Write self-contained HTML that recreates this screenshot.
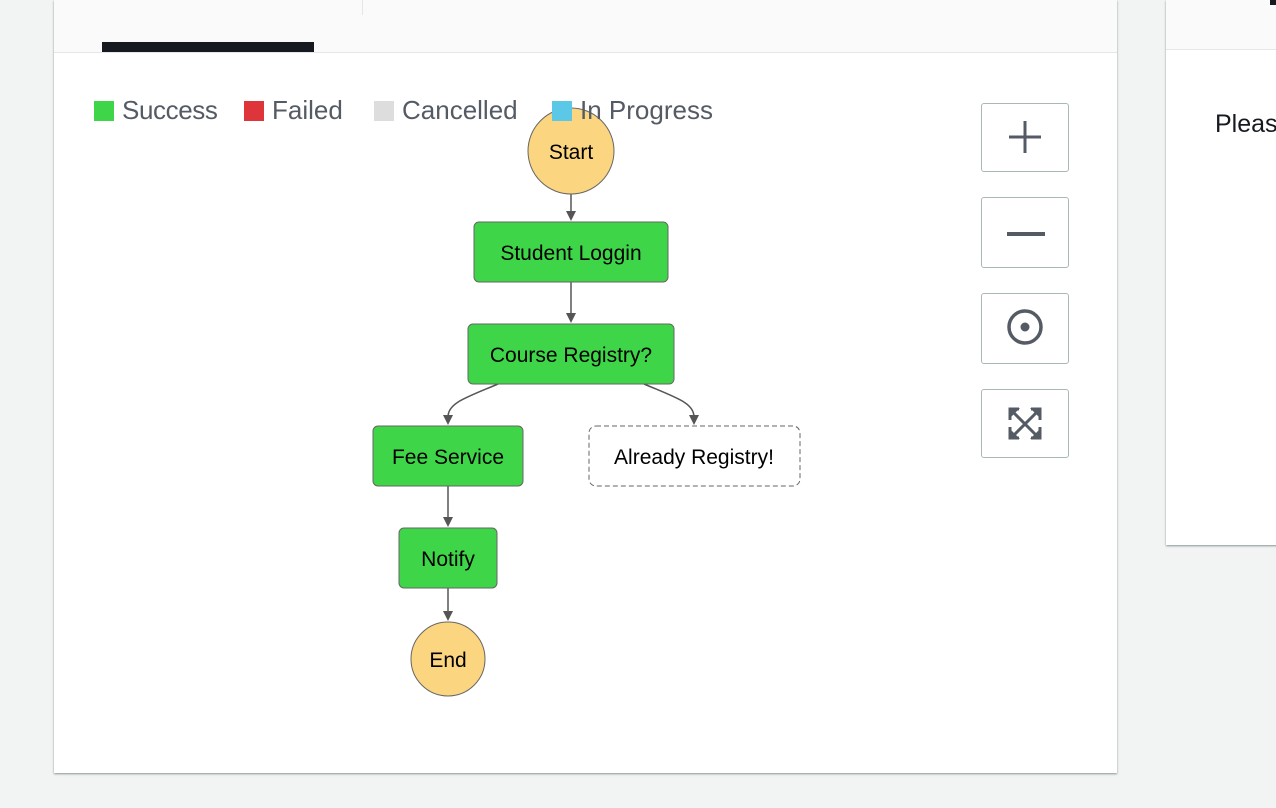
<!DOCTYPE html>
<html><head><meta charset="utf-8"><style>
body{margin:0;width:1276px;height:808px;background:#f2f3f3;position:relative;overflow:hidden;font-family:"Liberation Sans",sans-serif}
.panel{position:absolute;left:54px;top:0;width:1063px;height:773px;background:#fff;box-shadow:0 1px 2px #879596}
.hdr{position:absolute;left:0;top:0;right:0;height:52px;background:#fafafa;border-bottom:1px solid #e4e7e7}
.tab{position:absolute;left:48px;top:42px;width:212px;height:10px;background:#16191f}
.div{position:absolute;left:308px;top:0;width:1px;height:15px;background:#e4e7e7}
.leg{position:absolute;top:94px;font-size:26px;color:#545b64;line-height:32px;white-space:nowrap}
.leg i{display:inline-block;width:20px;height:20px;vertical-align:-2px;margin-right:8px}
.btn{position:absolute;left:981px;width:86px;border:1px solid #aab7b8;border-radius:3px;background:#fff}
.rp{position:absolute;left:1166px;top:0;width:120px;height:545px;background:#fff;box-shadow:0 1px 2px #879596}
.rp .h{position:absolute;left:0;top:0;right:0;height:49px;background:#fafafa;border-bottom:1px solid #e4e7e7}
</style></head><body>
<div class="panel"><div class="hdr"><div class="tab"></div><div class="div"></div></div></div>
<div class="rp"><div class="h"></div><div style="position:absolute;left:104px;top:0;width:6px;height:5px;background:#16191f"></div><div style="position:absolute;left:49px;top:110px;font-size:25px;color:#16191f">Pleas</div></div>
<div class="leg" style="left:94px;letter-spacing:-0.4px"><i style="background:#3fd548"></i>Success</div>
<div class="leg" style="left:244px"><i style="background:#dd3539"></i>Failed</div>
<div class="leg" style="left:374px"><i style="background:#dddddd"></i>Cancelled</div>
<svg width="1276" height="808" style="position:absolute;left:0;top:0">
<g stroke="#555" stroke-width="1.5" fill="none">
<line x1="571" y1="194" x2="571" y2="213"/><path d="M566,211 L576,211 L571,221 z" fill="#555" stroke="none"/>
<line x1="571" y1="282" x2="571" y2="315"/><path d="M566,313 L576,313 L571,323 z" fill="#555" stroke="none"/>
<path d="M498,384 C465,398 448,403 448,417"/><path d="M443,415 L453,415 L448,425 z" fill="#555" stroke="none"/>
<path d="M644,384 C677,398 694,403 694,417"/><path d="M689,415 L699,415 L694,425 z" fill="#555" stroke="none"/>
<line x1="448" y1="486" x2="448" y2="519"/><path d="M443,517 L453,517 L448,527 z" fill="#555" stroke="none"/>
<line x1="448" y1="588" x2="448" y2="613"/><path d="M443,611 L453,611 L448,621 z" fill="#555" stroke="none"/>
</g>
<g stroke="#666" stroke-width="1" font-family="Liberation Sans, sans-serif" font-size="21" text-anchor="middle">
<ellipse cx="571" cy="151" rx="43" ry="43" fill="#fbd57f"/>
<rect x="474" y="222" width="194" height="60" rx="5" fill="#3fd548"/>
<rect x="468" y="324" width="206" height="60" rx="5" fill="#3fd548"/>
<rect x="373" y="426" width="150" height="60" rx="5" fill="#3fd548"/>
<rect x="589" y="426" width="211" height="60" rx="7" fill="#fff" stroke-dasharray="5,3"/>
<rect x="399" y="528" width="98" height="60" rx="5" fill="#3fd548"/>
<circle cx="448" cy="659" r="37" fill="#fbd57f"/>
<g stroke="none" fill="#000">
<text x="571" y="159">Start</text>
<text x="571" y="260">Student Loggin</text>
<text x="571" y="362">Course Registry?</text>
<text x="448" y="464">Fee Service</text>
<text x="694" y="464">Already Registry!</text>
<text x="448" y="566">Notify</text>
<text x="448" y="667">End</text>
</g></g>
</svg>
<div class="leg" style="left:552px"><i style="background:#5bc8e8"></i>In Progress</div>
<div class="btn" style="top:103px;height:67px"><svg width="86" height="67"><path d="M43,17 V49 M27,33 H59" stroke="#545b64" stroke-width="3"/></svg></div>
<div class="btn" style="top:197px;height:69px"><svg width="86" height="69"><path d="M25,36 H63" stroke="#545b64" stroke-width="4"/></svg></div>
<div class="btn" style="top:293px;height:69px"><svg width="86" height="69"><circle cx="43" cy="33" r="16" fill="none" stroke="#545b64" stroke-width="3.5"/><circle cx="43" cy="33" r="4.5" fill="#545b64"/></svg></div>
<div class="btn" style="top:389px;height:67px"><svg width="86" height="67"><g stroke="#545b64" stroke-width="3" fill="none"><path d="M30,21 L56,47 M56,21 L30,47 M28,30 V19 H37 M49,19 H58 V30 M28,37 V48 H37 M49,48 H58 V37"/></g><g fill="#545b64"><path d="M27,18 h11 l-11,11z M59,18 h-11 l11,11z M27,49 h11 l-11,-11z M59,49 h-11 l11,-11z"/></g></svg></div>
</body></html>
